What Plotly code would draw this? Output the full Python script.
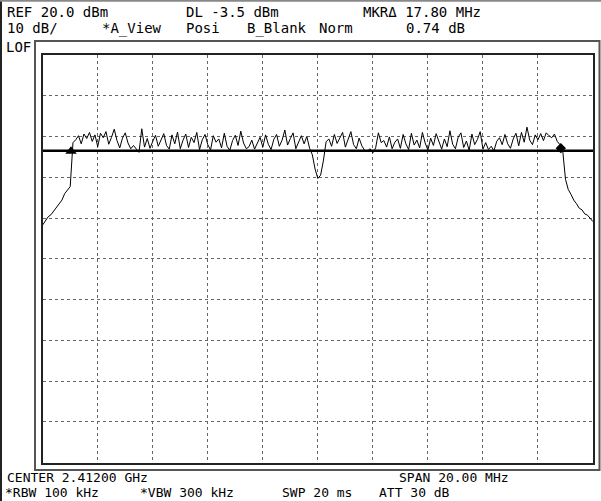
import numpy as np
import plotly.graph_objects as go

W, H = 601, 501

# ---- instrument settings (data) ----
center_mhz = 2412.0
span_mhz = 20.0
ref_level_dbm = 20.0
db_per_div = 10.0
n_divs = 10
display_line_dbm = -3.5
mkr1_offset_mhz = 1.03
mkr1_level_dbm = -3.6
mkr_delta_mhz = 17.80
mkr_delta_db = 0.74

# ---- trace values (dBm), sampled every 0.1 MHz across the span ----
trace_dbm = [
    # 0.0 - 1.0 MHz (rising edge)
    -21.7, -20.8, -19.7, -19.2, -18.3, -17.6, -16.5, -15.6, -14.0, -13.1, -12.3,
    # 1.1 - 18.8 MHz (in-band)
    -1.5, -0.8, 0.2, -1.8, 0.6, -0.5, 1.0, -1.2, 0.4, -2.5,
    0.8, -0.3, 1.2, -1.9, -0.2, 1.8, -1.0, -2.8, -0.4, 0.9,
    -1.6, -3.0, -2.2, -3.2, -3.9, 1.9, -2.6, -0.5, -2.9, -1.2,
    0.3, -2.4, -1.0, 0.7, -2.2, -3.1, 0.4, -1.8, 1.1, -3.0,
    -0.9, 0.6, -2.7, -0.2, -1.5, 1.0, -3.2, -0.8, 0.5, -2.0,
    -3.3, 0.2, -1.4, -0.6, -2.8, 0.8, -2.4, -3.4, -1.0, 0.3,
    -2.2, 1.3, -1.6, -3.0, -2.5, -0.9, -3.1, -1.8, -0.2, -2.6,
    0.4, -1.9, -3.2, -0.7, 0.5, -2.4, -0.9, 1.6, -2.1, -0.5,
    0.9, -3.0, -1.2, 0.2, -1.8, 0.0, -2.9, -4.5, -8.0, -10.3,
    -9.5, -6.0, -1.3, -0.6, -2.4, 0.5, -1.7, -0.3, 1.0, -2.6,
    -0.8, 1.2, -2.0, -3.0, -0.4, -2.3, -3.4, -3.6, -3.0, -4.0,
    -2.8, 0.9, -1.5, -1.0, -2.6, -0.1, -3.0, -1.4, -0.6, -2.9,
    0.5, -1.8, -3.2, 0.8, -2.1, -0.9, -2.8, 1.0, -1.6, -3.3,
    -0.4, -2.2, 0.7, -1.3, -3.1, -0.6, -2.5, 1.4, -1.9, -3.0,
    -0.2, 0.9, -2.7, -1.1, -3.4, 0.6, -2.0, -0.7, 1.2, -3.1,
    -1.5, -3.2, -2.4, -3.5, -1.2, -0.3, -2.0, 0.5, -1.8, -2.9,
    -0.6, 0.8, -2.3, 1.0, -1.4, 2.3, -0.9, -2.0, 0.4, -0.8,
    0.7, -1.0, 0.9, 0.2, -0.3, 0.6, -1.2, -2.0,
    # 18.9 - 20.0 MHz (falling edge)
    -3.5, -10.5, -13.0, -14.2, -15.6, -16.5, -17.6, -18.0, -19.0, -19.3, -20.2, -20.9,
]

header_texts = ["REF 20.0 dBm", "DL -3.5 dBm", "MKR\u0394 17.80 MHz",
                "10 dB/", "*A_View", "Posi", "B_Blank", "Norm", "0.74 dB", "LOF"]
footer_texts = ["CENTER 2.41200 GHz", "SPAN 20.00 MHz",
                "*RBW 100 kHz", "*VBW 300 kHz", "SWP 20 ms", "ATT 30 dB"]

# ---- derived ----
f_start = center_mhz - span_mhz / 2
f_stop = center_mhz + span_mhz / 2
bottom_dbm = ref_level_dbm - n_divs * db_per_div
freq = np.linspace(f_start, f_stop, len(trace_dbm))
m1_f = f_start + mkr1_offset_mhz
m2_f = m1_f + mkr_delta_mhz
m2_level = mkr1_level_dbm + mkr_delta_db

fig = go.Figure()
fig.add_trace(go.Scatter(x=freq, y=trace_dbm, mode="lines",
                         line=dict(color="black", width=1)))
fig.add_trace(go.Scatter(x=[f_start, f_stop], y=[display_line_dbm, display_line_dbm],
                         mode="lines", line=dict(color="black", width=2.5)))
fig.add_trace(go.Scatter(x=[m1_f], y=[mkr1_level_dbm], mode="markers",
                         marker=dict(symbol="triangle-up", size=10, color="black")))
fig.add_trace(go.Scatter(x=[m2_f], y=[m2_level], mode="markers",
                         marker=dict(symbol="diamond", size=8, color="black")))

# plot area pixel geometry
pl, pr, pt, pb = 42.7, 593.0, 55.0, 462.5

axis_common = dict(showgrid=True, gridcolor="#666", griddash="dot", gridwidth=1,
                   showticklabels=False, zeroline=False, showline=True, mirror=True,
                   linecolor="#222", linewidth=2, ticks="", fixedrange=True)
fig.update_xaxes(range=[f_start, f_stop], dtick=span_mhz / n_divs, tick0=f_start,
                 domain=[pl / W, pr / W], **axis_common)
fig.update_yaxes(range=[bottom_dbm, ref_level_dbm], dtick=db_per_div, tick0=bottom_dbm,
                 domain=[1 - pb / H, 1 - pt / H], **axis_common)

def px(x):
    return x / W

def py(y):
    return 1 - y / H

shapes = [
    # outer instrument frame
    dict(type="rect", xref="paper", yref="paper", x0=px(35), x1=px(599.5),
         y0=py(470), y1=py(41), line=dict(color="#555", width=2)),
    # image borders
    dict(type="line", xref="paper", yref="paper", x0=px(1), x1=px(1), y0=0, y1=1,
         line=dict(color="#222", width=2)),
    dict(type="line", xref="paper", yref="paper", x0=0, x1=1, y0=py(0.8), y1=py(0.8),
         line=dict(color="#888", width=2)),
]

font_head = dict(family="DejaVu Sans Mono", size=14, color="black")
font_foot = dict(family="DejaVu Sans Mono", size=13, color="black")
text_pos = {
    "REF 20.0 dBm": (5, 12), "DL -3.5 dBm": (184, 12), "MKR\u0394 17.80 MHz": (361, 12),
    "10 dB/": (5, 28), "*A_View": (100, 28), "Posi": (184, 28), "B_Blank": (245, 28),
    "Norm": (317, 28), "0.74 dB": (404, 28), "LOF": (4, 47),
    "CENTER 2.41200 GHz": (5, 477.5), "SPAN 20.00 MHz": (397, 477.5),
    "*RBW 100 kHz": (3, 492.5), "*VBW 300 kHz": (138, 492.5), "SWP 20 ms": (280, 492.5),
    "ATT 30 dB": (377, 492.5),
}
annotations = []
for t in header_texts + footer_texts:
    x, y = text_pos[t]
    annotations.append(dict(text=t, x=px(x), y=py(y), xref="paper", yref="paper",
                            xanchor="left", yanchor="middle", showarrow=False,
                            font=font_head if t in header_texts else font_foot))

fig.update_layout(width=W, height=H, margin=dict(l=0, r=0, t=0, b=0),
                  paper_bgcolor="white", plot_bgcolor="white", showlegend=False,
                  shapes=shapes, annotations=annotations)

fig.write_html("out.html")
